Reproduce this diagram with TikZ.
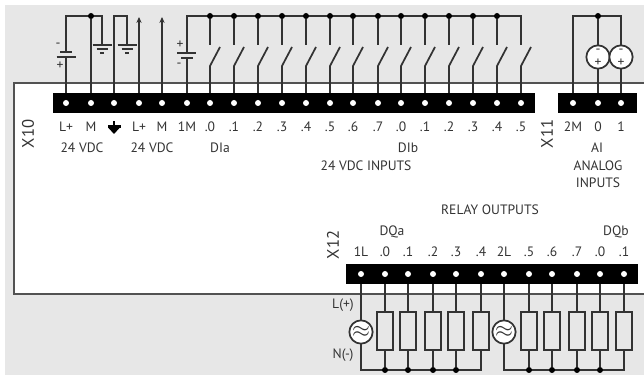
\documentclass[tikz,border=0pt]{standalone}
\usepackage{fontspec}
\usetikzlibrary{arrows.meta}
\setmainfont{PT Sans}
\definecolor{wirecol}{HTML}{333333}
\definecolor{panelcol}{HTML}{E7E7E7}
\definecolor{labelcol}{HTML}{333333}
\pgfdeclarelayer{back}
\pgfdeclarelayer{wires}
\pgfsetlayers{back,wires,main}
\tikzset{
  wire/.style={color=wirecol,line width=1.3pt},
  frameline/.style={color=wirecol!85,line width=1.4pt},
  strip/.style={fill=black,draw=none},
  terminal/.style={circle,fill=white,draw=none,inner sep=0pt,minimum size=4.5pt},
  junction/.style={circle,fill=black,draw=none,inner sep=0pt,minimum size=4.5pt},
  lbl/.style={color=labelcol,font=\fontsize{10.2}{12}\selectfont,inner sep=0pt},
  tag/.style={color=labelcol,font=\fontsize{12.5}{13}\selectfont,inner sep=0pt,rotate=90},
  source/.style={circle,draw=wirecol,line width=1.3pt,fill=white,inner sep=0pt,minimum size=17.5pt},
  load/.style={rectangle,draw=wirecol,line width=1.3pt,fill=panelcol,inner sep=0pt,minimum width=11.6pt,minimum height=28.5pt},
  feed/.style={wire,-{Stealth[length=4.5pt,width=4pt]}}
}
\newcommand{\earth}[2]{%
\draw[wire] (#1-9.5,#2) -- (#1+9.5,#2);
\draw[wire] (#1-5.5,#2+4) -- (#1+5.5,#2+4);
\draw[wire] (#1-2,#2+8) -- (#1+2,#2+8);
}
\begin{document}
\begin{tikzpicture}[x=0.75pt,y=-0.75pt]
\useasboundingbox (0,0) rectangle (644,381);
% panels
\begin{pgfonlayer}{back}
\fill[panelcol] (5,5) rectangle (644,83);
\fill[panelcol] (5,83) rectangle (14,375);
\fill[panelcol] (14,294) rectangle (644,375);
\draw[frameline] (644,83) -- (14,83) -- (14,294) -- (644,294);
\end{pgfonlayer}
% terminal strips
\node[strip,minimum width=361.5pt,minimum height=15pt,inner sep=0pt] (stripa) at (293.5,103) {};
\node[strip,minimum width=59pt,minimum height=15pt,inner sep=0pt] (stripb) at (597.5,103) {};
\node[strip,minimum width=219pt,minimum height=15pt,inner sep=0pt] (stripc) at (492,274) {};
\foreach \x/\n/\t in {66/1/L+,91/2/M,114/3/,139/4/L+,162/5/M,187/6/1M,210/7/.0,234/8/.1,258/9/.2,282/10/.3,306/11/.4,330/12/.5,353/13/.6,378/14/.7,401/15/.0,425/16/.1,449/17/.2,473/18/.3,497/19/.4,521/20/.5} {
  \node[terminal] (a\n) at (\x,103) {};
  \node[lbl] (al\n) at (\x,127) {\t};
}
\foreach \x/\n/\t in {573/1/2M,598/2/0,621/3/1} {
  \node[terminal] (b\n) at (\x,103) {};
  \node[lbl] (bl\n) at (\x,127) {\t};
}
\foreach \x/\n/\t in {361/1/1L,385/2/.0,408/3/.1,433/4/.2,456/5/.3,481/6/.4,504/7/2L,529/8/.5,552/9/.6,577/10/.7,600/11/.0,624/12/.1} {
  \node[terminal] (c\n) at (\x,274) {};
  \node[lbl] (cl\n) at (\x,252) {\t};
}
% junctions and parts on the wires
\node[junction] (ja) at (91,16) {};
\node[junction] (jb) at (598,16) {};
\foreach \x/\n in {210/7,234/8,258/9,282/10,306/11,330/12,353/13,378/14,401/15,425/16,449/17,473/18,497/19} {
  \node[junction] (j\n) at (\x,16) {};
}
\node[source] (sa) at (598,57) {};
\node[source] (sb) at (621,57) {};
\node[lbl] at (598,51.5) {-};
\node[lbl] at (598,62.5) {+};
\node[lbl] at (621,51.5) {-};
\node[lbl] at (621,62.5) {+};
\foreach \x/\n in {385/2,408/3,433/4,456/5,481/6,529/8,552/9,577/10,600/11,624/12} {
  \node[load] (r\n) at (\x,331) {};
}
\foreach \x/\n in {385/2,408/3,433/4,456/5,529/8,552/9,577/10,600/11} {
  \node[junction] (k\n) at (\x,370) {};
}
\node[source] (sc) at (361,332) {\fontsize{16}{16}\selectfont\color{wirecol}$\approx$};
\node[source] (sd) at (504,332) {\fontsize{16}{16}\selectfont\color{wirecol}$\approx$};
\begin{pgfonlayer}{wires}
% supply side
\draw[wire] (a1) -- (66,57);
\draw[wire] (66,52) -- (66,16) -- (102,16) -- (102,45);
\draw[wire] (a2) -- (ja);
\draw[wire] (a3) -- (114,16) -- (127,16) -- (127,45);
\earth{102}{45}
\earth{127}{45}
\draw[wire,line width=1.9pt] (60,52) -- (72,52);
\draw[wire] (56.5,57) -- (75.5,57);
\draw[feed] (a4) -- (139,17);
\draw[feed] (a5) -- (162,17);
% digital inputs
\draw[wire] (a6) -- (187,58);
\draw[wire] (187,53) -- (187,16) -- (521,16) -- (521,45);
\draw[wire] (177,53) -- (196,53);
\draw[wire,line width=1.9pt] (181,58) -- (193,58);
\foreach \x/\n in {210/7,234/8,258/9,282/10,306/11,330/12,353/13,378/14,401/15,425/16,449/17,473/18,497/19} {
  \draw[wire] (j\n) -- (\x,45);
  \draw[wire] (a\n) -- (\x,66) -- (\x+10,47);
}
\draw[wire] (a20) -- (521,66) -- (531,47);
% analog inputs
\draw[wire] (b1) -- (573,16) -- (621,16) -- (b3);
\draw[wire] (jb) -- (b2);
% relay outputs
\draw[wire] (c1) -- (361,370) -- (481,370) -- (c6);
\draw[wire] (c7) -- (504,370) -- (624,370) -- (c12);
\foreach \x/\n in {385/2,408/3,433/4,456/5,529/8,552/9,577/10,600/11} {
  \draw[wire] (c\n) -- (k\n);
}
\end{pgfonlayer}
\node[lbl] (minusa) at (58,45) {-};
\node[lbl] (plusa) at (60,66) {+};
\node[lbl] (plusb) at (180,45) {+};
\node[lbl] (minusb) at (179,65) {-};
% earth mark
\fill[black] (112.6,121.5) rectangle (115.4,128);
\fill[black] (107.5,125.5) rectangle (120.5,128);
\fill[black] (108.5,128) -- (119.5,128) -- (114,134) -- cycle;
% labels
\node[lbl] (vdca) at (82,148) {24 VDC};
\node[lbl] (vdcb) at (152,148) {24 VDC};
\node[lbl] (dia) at (220,148) {DIa};
\node[lbl] (dib) at (408,148) {DIb};
\node[lbl] (inp) at (366,166) {24 VDC INPUTS};
\node[lbl] (ai) at (597,148) {AI};
\node[lbl] (ana) at (598,166) {ANALOG};
\node[lbl] (anb) at (598,183) {INPUTS};
\node[lbl] (rel) at (490,210) {RELAY OUTPUTS};
\node[lbl] (dqa) at (392,232) {DQa};
\node[lbl] (dqb) at (616,232) {DQb};
\node[lbl] (lp) at (343,305) {L(+)};
\node[lbl] (nm) at (343,355) {N(-)};
\node[tag] (xa) at (28,134) {X10};
\node[tag] (xb) at (547,134) {X11};
\node[tag] (xc) at (333,245) {X12};
\end{tikzpicture}
\end{document}
